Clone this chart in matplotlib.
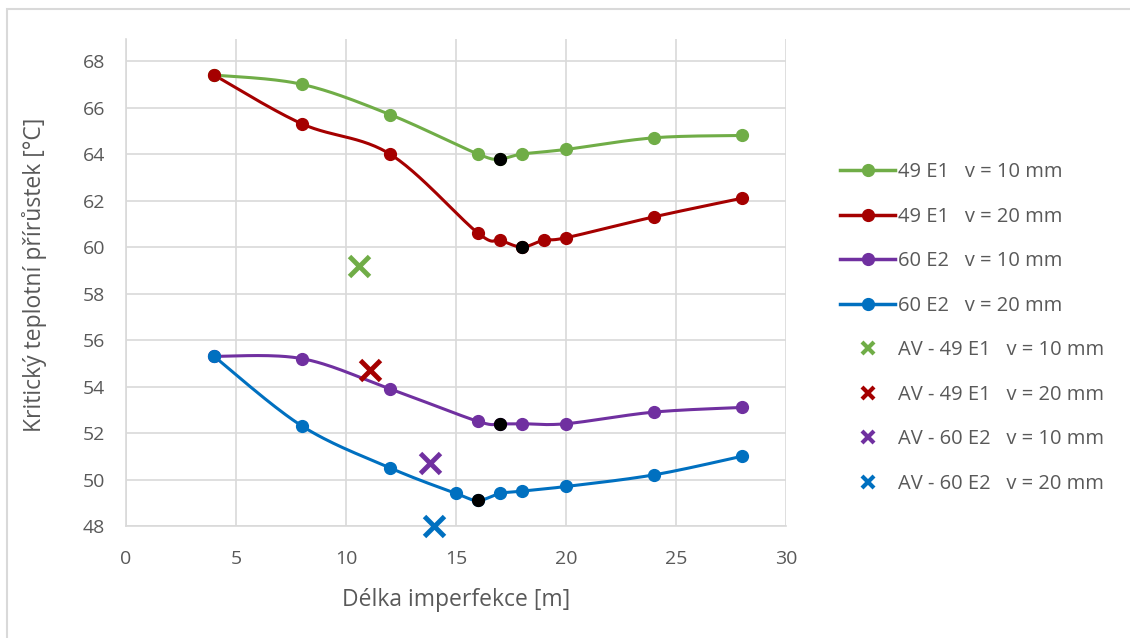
import numpy as np
import matplotlib.pyplot as plt
from matplotlib.lines import Line2D
from matplotlib.patches import Rectangle

plt.rcParams['font.family'] = ['Open Sans', 'DejaVu Sans']

# measured series: imperfection length [m] vs critical temperature rise [°C]
x_49_10 = [4, 8, 12, 16, 17, 18, 20, 24, 28]
y_49_10 = [67.4, 67.0, 65.7, 64.0, 63.8, 64.0, 64.2, 64.7, 64.8]
min_49_10 = 4  # index of the minimum (black marker)

x_49_20 = [4, 8, 12, 16, 17, 18, 19, 20, 24, 28]
y_49_20 = [67.4, 65.3, 64.0, 60.6, 60.3, 60.0, 60.3, 60.4, 61.3, 62.1]
min_49_20 = 5

x_60_10 = [4, 8, 12, 16, 17, 18, 20, 24, 28]
y_60_10 = [55.3, 55.2, 53.9, 52.5, 52.4, 52.4, 52.4, 52.9, 53.1]
min_60_10 = 4

x_60_20 = [4, 8, 12, 15, 16, 17, 18, 20, 24, 28]
y_60_20 = [55.3, 52.3, 50.5, 49.4, 49.1, 49.4, 49.5, 49.7, 50.2, 51.0]
min_60_20 = 4

# AV points
av_x = [10.6, 11.1, 13.8, 14.0]
av_y = [59.2, 54.7, 50.7, 48.0]

labels = ["49 E1   v = 10 mm", "49 E1   v = 20 mm",
          "60 E2   v = 10 mm", "60 E2   v = 20 mm"]
av_labels = ["AV - 49 E1   v = 10 mm", "AV - 49 E1   v = 20 mm",
             "AV - 60 E2   v = 10 mm", "AV - 60 E2   v = 20 mm"]
colors = ["#70AD47", "#A50000", "#7030A0", "#0070C0"]


def smooth(x, y, n=30):
    # bezier smoothing through the points (same style as office charts)
    p = np.column_stack([x, y]).astype(float)
    p = np.vstack([p[0], p, p[-1]])
    out = []
    t = np.linspace(0, 1, n)[:, None]
    for i in range(1, len(p) - 2):
        p0, p3 = p[i], p[i + 1]
        c1 = p0 + (p[i + 1] - p[i - 1]) / 6
        c2 = p3 - (p[i + 2] - p[i]) / 6
        seg = ((1 - t) ** 3 * p0 + 3 * (1 - t) ** 2 * t * c1
               + 3 * (1 - t) * t ** 2 * c2 + t ** 3 * p3)
        out.append(seg if i == 1 else seg[1:])
    out = np.vstack(out)
    return out[:, 0], out[:, 1]


fig = plt.figure(figsize=(11.3, 6.38), dpi=100)
ax = fig.add_axes([126 / 1130, 1 - 526 / 638, 660 / 1130, 487 / 638])

series = [(x_49_10, y_49_10, min_49_10), (x_49_20, y_49_20, min_49_20),
          (x_60_10, y_60_10, min_60_10), (x_60_20, y_60_20, min_60_20)]

for (xs, ys, im), c in zip(series, colors):
    sx, sy = smooth(xs, ys)
    ax.plot(sx, sy, color=c, lw=2.2, zorder=3, clip_on=False)
    ax.plot(xs, ys, 'o', color=c, ms=8.5, zorder=4, clip_on=False)
    ax.plot(xs[im], ys[im], 'o', color='black', ms=8.5, zorder=5, clip_on=False)

for xv, yv, c in zip(av_x, av_y, colors):
    ax.plot(xv, yv, marker='x', color=c, ms=15, mew=3.5, ls='none',
            zorder=6, clip_on=False)

ax.set_xlim(0, 30)
ax.set_ylim(48, 68.95)
ax.set_xticks(range(0, 31, 5))
ax.set_yticks(range(48, 69, 2))
ax.grid(True, color='#D9D9D9', lw=1.2)
ax.set_axisbelow(True)
for s in ['top', 'right']:
    ax.spines[s].set_visible(False)
ax.spines['left'].set_color('#D9D9D9')
ax.spines['bottom'].set_color('#D9D9D9')
ax.spines['left'].set_linewidth(1.2)
ax.spines['bottom'].set_linewidth(1.2)
ax.tick_params(length=0, labelsize=14, labelcolor='#595959')
ax.tick_params(axis='y', pad=15)
ax.tick_params(axis='x', pad=17)

ax.set_xlabel("Délka imperfekce [m]", fontsize=16.5, color='#595959', labelpad=15)
ax.set_ylabel("Kritický teplotní přírůstek [°C]", fontsize=16.5, color='#595959')
ax.yaxis.set_label_coords(-79 / 660, 0.515)

handles = []
for c, lab in zip(colors, labels):
    handles.append(Line2D([], [], color=c, lw=2.5, marker='o', ms=8.5, label=lab))
for c, lab in zip(colors, av_labels):
    handles.append(Line2D([], [], color=c, ls='none', marker='x', ms=8,
                          mew=3, label=lab))

leg = fig.legend(handles=handles, loc='upper left',
                 bbox_to_anchor=(832 / 1130, 1 - 154 / 638),
                 frameon=False, fontsize=14.5, labelspacing=1.22,
                 handlelength=2.75, handletextpad=0.15, borderaxespad=0)
for t in leg.get_texts():
    t.set_color('#595959')

# chart border (only top and left edges fall inside the image)
fig.add_artist(Rectangle((6.5 / 1130, -0.1), 1.2, 1.1 - 9.5 / 638 + 0.0,
                         transform=fig.transFigure, fill=False,
                         edgecolor='#D9D9D9', lw=1.5))

fig.savefig("out.png", dpi=100)
